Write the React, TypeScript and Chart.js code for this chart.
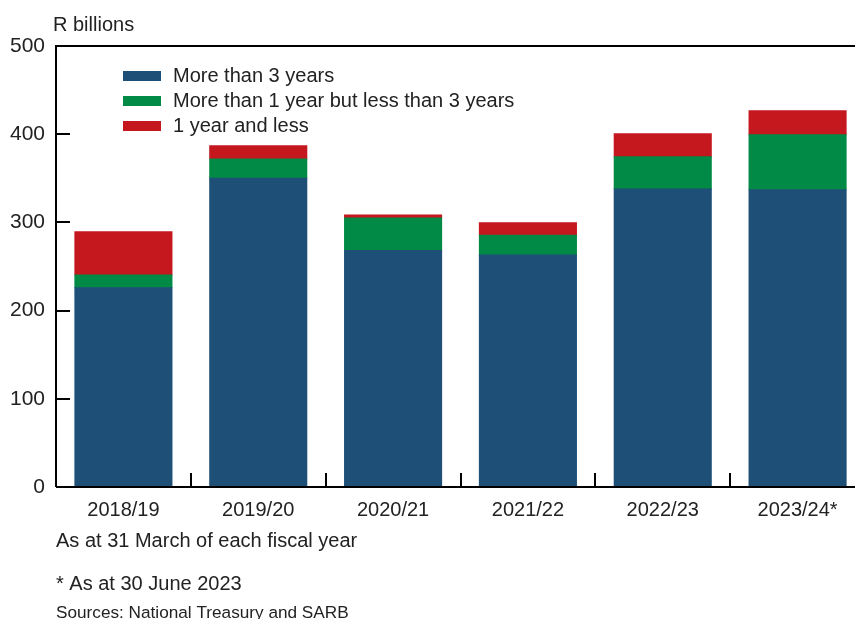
import React, { useEffect, useRef } from "react";
import { Chart, registerables } from "chart.js";

Chart.register(...registerables);

const categories = ["2018/19", "2019/20", "2020/21", "2021/22", "2022/23", "2023/24*"];
const moreThan3Years = [226, 350, 268, 263, 338, 337];
const oneToThreeYears = [14.5, 22, 37, 22.5, 36.5, 62.5];
const oneYearOrLess = [49, 15, 3.5, 14, 26, 27];
const yTickValues = [0, 100, 200, 300, 400, 500];

const FONT = "'Liberation Sans', Arial, Helvetica, sans-serif";
const TEXT = "#222222";

const framePlugin = {
  id: "framePlugin",
  afterDraw(chart: any) {
    const { ctx, chartArea, scales } = chart;
    const x = scales.x;
    const y = scales.y;
    ctx.save();
    ctx.strokeStyle = "#000";
    ctx.lineWidth = 2;
    ctx.beginPath();
    ctx.moveTo(chartArea.left, chartArea.bottom);
    ctx.lineTo(chartArea.left, chartArea.top);
    ctx.lineTo(chartArea.right, chartArea.top);
    ctx.moveTo(chartArea.left, chartArea.bottom);
    ctx.lineTo(chartArea.right, chartArea.bottom);
    ctx.stroke();
    ctx.beginPath();
    yTickValues.forEach((v) => {
      if (v === 0 || v === 500) return;
      const py = Math.round(y.getPixelForValue(v));
      ctx.moveTo(chartArea.left, py);
      ctx.lineTo(chartArea.left + 14, py);
    });
    for (let i = 1; i < categories.length; i++) {
      const px = Math.round((x.getPixelForValue(i - 1) + x.getPixelForValue(i)) / 2);
      ctx.moveTo(px, chartArea.bottom);
      ctx.lineTo(px, chartArea.bottom - 14);
    }
    ctx.stroke();

    ctx.font = `20px ${FONT}`;
    ctx.textBaseline = "middle";
    ctx.textAlign = "left";
    chart.data.datasets.forEach((ds: any, i: number) => {
      const cy = 76 + i * 25;
      ctx.fillStyle = ds.backgroundColor;
      ctx.fillRect(123, cy - 5, 38, 10);
      ctx.fillStyle = TEXT;
      ctx.fillText(ds.label, 173, cy);
    });

    ctx.textBaseline = "alphabetic";
    ctx.fillStyle = TEXT;
    ctx.font = `20px ${FONT}`;
    ctx.fillText("R billions", 53, 31);
    ctx.fillText("As at 31 March of each fiscal year", 56, 547);
    ctx.fillText("* As at 30 June 2023", 56, 590);
    ctx.font = `17.2px ${FONT}`;
    ctx.fillText("Sources: National Treasury and SARB", 56, 618);
    ctx.restore();
  },
};

export default function App() {
  const canvasRef = useRef<HTMLCanvasElement | null>(null);

  useEffect(() => {
    if (!canvasRef.current) return;
    const chart = new Chart(canvasRef.current, {
      type: "bar",
      data: {
        labels: categories,
        datasets: [
          { label: "More than 3 years", data: moreThan3Years, backgroundColor: "#1d4f77" },
          { label: "More than 1 year but less than 3 years", data: oneToThreeYears, backgroundColor: "#008a45" },
          { label: "1 year and less", data: oneYearOrLess, backgroundColor: "#c4171e" },
        ],
      },
      options: {
        responsive: false,
        animation: false,
        layout: { padding: { left: 0, right: 5, top: 46, bottom: 0 } },
        plugins: { legend: { display: false }, tooltip: { enabled: false } },
        datasets: { bar: { barPercentage: 0.72, categoryPercentage: 1, borderWidth: 0, inflateAmount: 0.5 } },
        scales: {
          x: {
            stacked: true,
            offset: true,
            grid: { display: false, drawTicks: false },
            border: { display: false },
            ticks: { color: TEXT, font: { family: FONT, size: 20 }, padding: 11, maxRotation: 0 },
            afterFit: (s: any) => { s.height = 132; },
          },
          y: {
            stacked: true,
            min: 0,
            max: 500,
            grid: { display: false, drawTicks: false },
            border: { display: false },
            ticks: { stepSize: 100, color: TEXT, font: { family: FONT, size: 21 }, padding: 11 },
            afterFit: (s: any) => { s.width = 56; },
          },
        },
      },
      plugins: [framePlugin],
    });
    return () => chart.destroy();
  }, []);

  return (
    <div style={{ position: "fixed", left: 0, top: 0, width: 855, height: 619, overflow: "hidden", background: "#fff" }}>
      <canvas ref={canvasRef} width={870} height={619} style={{ width: 870, height: 619, display: "block" }} />
    </div>
  );
}
